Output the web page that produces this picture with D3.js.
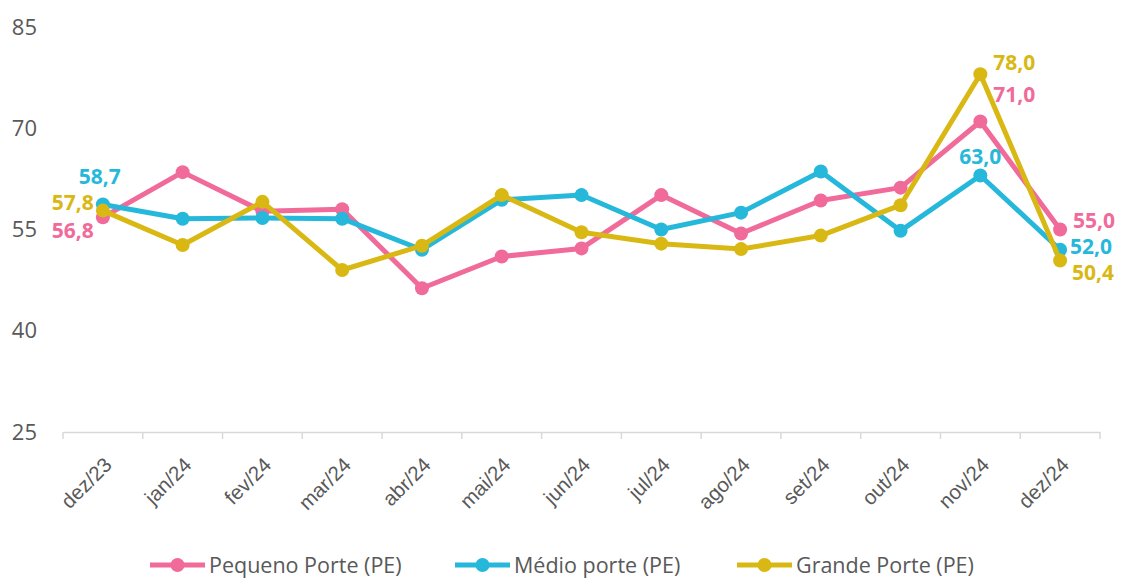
<!DOCTYPE html>
<html>
<head>
<meta charset="utf-8">
<script src="https://cdn.jsdelivr.net/npm/d3@7"></script>
<style>
  body { margin: 0; background: #fff; }
  svg { display: block; font-family: "Open Sans", "Noto Sans", sans-serif; }
</style>
</head>
<body>
<svg width="1123" height="578"></svg>
<script>
// dados do grafico
var meses = ["dez/23","jan/24","fev/24","mar/24","abr/24","mai/24","jun/24","jul/24","ago/24","set/24","out/24","nov/24","dez/24"];
var pequeno = [56.8, 63.5, 57.7, 58.0, 46.3, 51.0, 52.2, 60.1, 54.4, 59.3, 61.2, 71.0, 55.0];
var medio   = [58.7, 56.6, 56.7, 56.6, 52.0, 59.4, 60.1, 55.0, 57.5, 63.6, 54.8, 63.0, 52.0];
var grande  = [57.8, 52.7, 59.1, 49.0, 52.6, 60.1, 54.6, 52.9, 52.1, 54.1, 58.6, 78.0, 50.4];
var yTicks = [25, 40, 55, 70, 85];

var series = [
  { nome: "Pequeno Porte (PE)", valores: pequeno, cor: "#F06A9A" },
  { nome: "Médio porte (PE)",   valores: medio,   cor: "#26B8DA" },
  { nome: "Grande Porte (PE)",  valores: grande,  cor: "#D9B814" }
];

// rotulos de dados so em alguns pontos: [serie, indice, dx, dy, anchor]
var rotulos = [
  [1, 0, 18, -28, "end"], [2, 0, -9, -8, "end"], [0, 0, -9, 13, "end"],
  [2, 11, 13, -12, "start"], [0, 11, 13, -27, "start"], [1, 11, 0, -19, "middle"],
  [0, 12, 13, -9, "start"], [1, 12, 10, -3, "start"], [2, 12, 12, 12, "start"]
];

var svg = d3.select("svg");

var x = d3.scaleBand().domain(meses).range([63, 1100]);
var y = d3.scaleLinear().domain([25, 85]).range([432, 27]);

var cx = function(i) { return x(meses[i]) + x.bandwidth() / 2; };

// eixo y (so texto)
svg.append("g").selectAll("text")
  .data(yTicks).enter().append("text")
  .attr("x", 37).attr("y", function(d) { return y(d); })
  .attr("dy", "0.35em")
  .attr("text-anchor", "end")
  .style("font-size", "22px")
  .style("fill", "#595959")
  .text(function(d) { return d; });

// eixo x
var xAxis = svg.append("g")
  .attr("transform", "translate(0,432)")
  .call(d3.axisBottom(x).tickSize(0).tickPadding(0));
xAxis.select(".domain").attr("stroke", "#d9d9d9").attr("stroke-width", 1.5);
xAxis.selectAll(".tick text").remove();

// marcas entre categorias
var bordas = meses.map(function(m) { return x(m); }).concat([1100]);
xAxis.selectAll("line.sep").data(bordas).enter().append("line")
  .attr("class", "sep")
  .attr("x1", function(d) { return d; }).attr("x2", function(d) { return d; })
  .attr("y1", 0).attr("y2", 7)
  .attr("stroke", "#d9d9d9").attr("stroke-width", 1.5);

xAxis.selectAll("text.mes").data(meses).enter().append("text")
  .attr("class", "mes")
  .attr("transform", function(d) { return "translate(" + (x(d) + x.bandwidth() / 2) + ",24) rotate(-45)"; })
  .attr("text-anchor", "end")
  .attr("dy", "0.7em")
  .style("font-size", "20.5px")
  .style("fill", "#595959")
  .text(function(d) { return d; });

// linhas
var line = d3.line()
  .x(function(d, i) { return cx(i); })
  .y(function(d) { return y(d); });

var g = svg.append("g");
series.forEach(function(s) {
  g.append("path")
    .datum(s.valores)
    .attr("d", line)
    .attr("fill", "none")
    .attr("stroke", s.cor)
    .attr("stroke-width", 5)
    .attr("stroke-linejoin", "round");
  g.selectAll(null).data(s.valores).enter().append("circle")
    .attr("cx", function(d, i) { return cx(i); })
    .attr("cy", function(d) { return y(d); })
    .attr("r", 7)
    .attr("fill", s.cor);
});

// rotulos de dados
svg.append("g").selectAll("text")
  .data(rotulos).enter().append("text")
  .attr("x", function(r) { return cx(r[1]) + r[2]; })
  .attr("y", function(r) { return y(series[r[0]].valores[r[1]]) + r[3]; })
  .attr("dy", "0.35em")
  .attr("text-anchor", function(r) { return r[4]; })
  .style("font-size", "21px")
  .style("font-weight", "bold")
  .style("fill", function(r) { return series[r[0]].cor; })
  .text(function(r) { return series[r[0]].valores[r[1]].toFixed(1).replace(".", ","); });

// legenda
var legX = [150, 455, 737];
var leg = svg.append("g").selectAll("g")
  .data(series).enter().append("g")
  .attr("transform", function(d, i) { return "translate(" + legX[i] + ",565)"; });
leg.append("line")
  .attr("x1", 0).attr("x2", 55).attr("y1", 0).attr("y2", 0)
  .attr("stroke", function(d) { return d.cor; })
  .attr("stroke-width", 5);
leg.append("circle")
  .attr("cx", 27.5).attr("cy", 0).attr("r", 7)
  .attr("fill", function(d) { return d.cor; });
leg.append("text")
  .attr("x", 59).attr("y", 0).attr("dy", "0.35em")
  .style("font-size", "21.5px")
  .style("fill", "#595959")
  .text(function(d) { return d.nome; });
</script>
</body>
</html>
